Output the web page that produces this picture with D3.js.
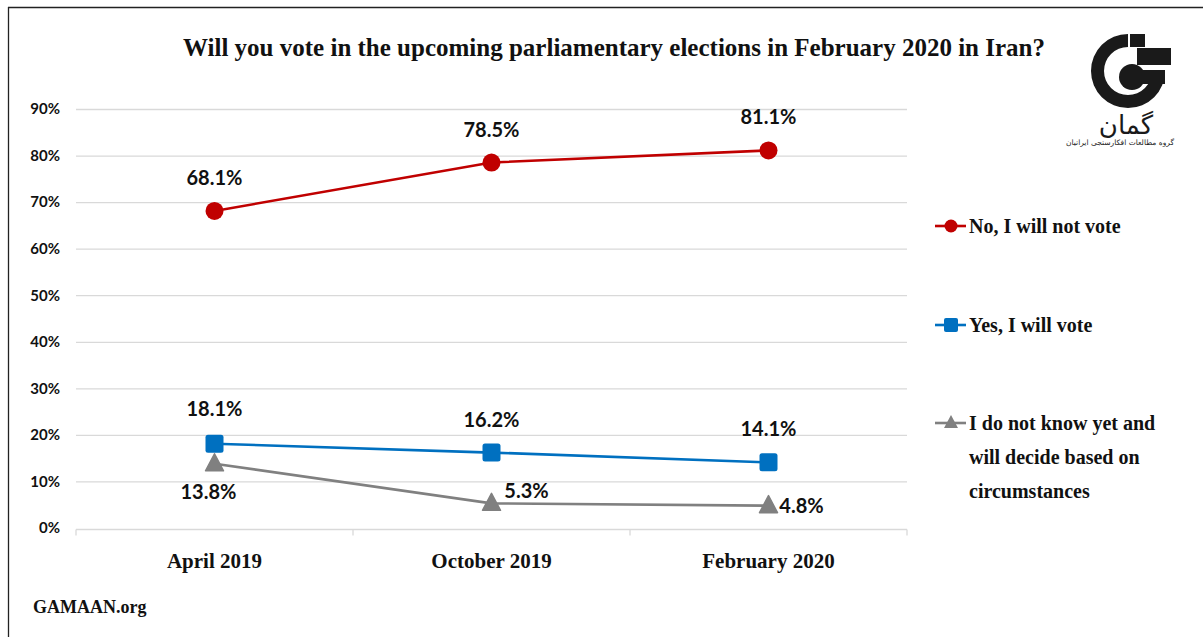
<!DOCTYPE html>
<html>
<head>
<meta charset="utf-8">
<script src="https://cdn.jsdelivr.net/npm/d3@7"></script>
<style>
  html, body { margin: 0; padding: 0; background: #fff; }
  svg { display: block; }
</style>
</head>
<body>
<svg id="chart" width="1203" height="637"></svg>
<script>
// Survey waves and answer shares (%)
const waves = ["April 2019", "October 2019", "February 2020"];
const noVote = [68.1, 78.5, 81.1];
const yesVote = [18.1, 16.2, 14.1];
const undecided = [13.8, 5.3, 4.8];
const yTicks = [0, 10, 20, 30, 40, 50, 60, 70, 80, 90];
const seriesNames = ["No, I will not vote", "Yes, I will vote", "I do not know yet and will decide based on circumstances"];

const svg = d3.select("#chart");
const serif = "'Liberation Serif', 'DejaVu Serif', serif";
const sans = "Lato, 'Open Sans', sans-serif";

// frame lines on top and left
svg.append("line").attr("x1", 8).attr("x2", 1203).attr("y1", 7.5).attr("y2", 7.5)
  .attr("stroke", "#222").attr("stroke-width", 1.3);
svg.append("line").attr("x1", 8.5).attr("x2", 8.5).attr("y1", 7).attr("y2", 637)
  .attr("stroke", "#222").attr("stroke-width", 1.3);

// title
svg.append("text")
  .attr("x", 614).attr("y", 56)
  .attr("text-anchor", "middle")
  .attr("font-family", serif).attr("font-weight", "bold").attr("font-size", 25)
  .attr("fill", "#111")
  .text("Will you vote in the upcoming parliamentary elections in February 2020 in Iran?");

const x = d3.scaleBand().domain(waves).range([76, 907]);
const y = d3.scaleLinear().domain([0, 90]).range([528, 109]);
const cx = d => x(d) + x.bandwidth() / 2;

// gridlines
svg.append("g").selectAll("line").data(yTicks.filter(t => t > 0)).join("line")
  .attr("x1", 76).attr("x2", 907)
  .attr("y1", d => y(d) + 0.5).attr("y2", d => y(d) + 0.5)
  .attr("stroke", "#d9d9d9").attr("stroke-width", 1.3);

// y axis tick labels
const yAxis = svg.append("g").attr("transform", "translate(60,0)")
  .call(d3.axisLeft(y).tickValues(yTicks).tickFormat(d => d + "%").tickSize(0).tickPadding(0));
yAxis.select(".domain").remove();
yAxis.selectAll("text")
  .attr("font-family", sans).attr("font-weight", "bold").attr("font-size", 15).attr("fill", "#111");

// x axis with category boundary ticks
const xAxisG = svg.append("g").attr("transform", `translate(0,${y(0) + 1.5})`);
xAxisG.append("line").attr("x1", 76).attr("x2", 907).attr("y1", 0).attr("y2", 0)
  .attr("stroke", "#d9d9d9").attr("stroke-width", 1.3);
xAxisG.selectAll("line.tick").data(waves.map(w => x(w)).concat([907])).join("line")
  .attr("class", "tick")
  .attr("x1", d => d).attr("x2", d => d).attr("y1", 0).attr("y2", 6)
  .attr("stroke", "#d9d9d9").attr("stroke-width", 1.3);
xAxisG.selectAll("text").data(waves).join("text")
  .attr("x", d => cx(d)).attr("y", 38)
  .attr("text-anchor", "middle")
  .attr("font-family", serif).attr("font-weight", "bold").attr("font-size", 21).attr("fill", "#111")
  .text(d => d);

const line = d3.line().x((d, i) => cx(waves[i])).y(d => y(d));

const series = [
  { name: seriesNames[0], values: noVote, color: "#C00000", shape: "circle" },
  { name: seriesNames[1], values: yesVote, color: "#0070C0", shape: "square" },
  { name: seriesNames[2], values: undecided, color: "#808080", shape: "triangle" }
];

function marker(g, shape, color, px, py) {
  if (shape === "circle") {
    g.append("circle").attr("cx", px).attr("cy", py).attr("r", 9).attr("fill", color);
  } else if (shape === "square") {
    g.append("rect").attr("x", px - 9).attr("y", py - 9).attr("width", 18).attr("height", 18)
      .attr("rx", 2.5).attr("fill", color);
  } else {
    g.append("path").attr("d", `M${px},${py - 10} L${px + 9},${py + 7} L${px - 9},${py + 7} Z`)
      .attr("fill", color).attr("stroke", color).attr("stroke-width", 1.5).attr("stroke-linejoin", "round");
  }
}

// draw from the bottom series up so red sits on top
[...series].reverse().forEach(s => {
  const g = svg.append("g");
  g.append("path").datum(s.values).attr("d", line)
    .attr("fill", "none").attr("stroke", s.color).attr("stroke-width", 2.6);
  s.values.forEach((v, i) => marker(g, s.shape, s.color, cx(waves[i]), y(v)));
});

// value labels: offsets per series/point
const labelOffsets = [
  [[0, -33], [0, -33], [0, -33]],
  [[0, -35], [0, -33], [0, -33]],
  [[-6, 28], [35, -12], [33, 0]]
];
series.forEach((s, si) => {
  s.values.forEach((v, i) => {
    const [dx, dy] = labelOffsets[si][i];
    svg.append("text")
      .attr("x", cx(waves[i]) + dx).attr("y", y(v) + dy)
      .attr("dy", "0.35em")
      .attr("text-anchor", "middle")
      .attr("font-family", sans).attr("font-weight", "bold").attr("font-size", 20).attr("fill", "#111")
      .text(v.toFixed(1) + "%");
  });
});

// legend
const legendY = [226, 325, 423];
series.forEach((s, i) => {
  const g = svg.append("g");
  const ly = legendY[i];
  g.append("line").attr("x1", 935).attr("x2", 966).attr("y1", ly).attr("y2", ly)
    .attr("stroke", s.color).attr("stroke-width", 2.6);
  if (s.shape === "circle") g.append("circle").attr("cx", 951).attr("cy", ly).attr("r", 6.5).attr("fill", s.color);
  else if (s.shape === "square") g.append("rect").attr("x", 944).attr("y", ly - 7).attr("width", 14).attr("height", 14).attr("rx", 2).attr("fill", s.color);
  else g.append("path").attr("d", `M951,${ly - 8} L958,${ly + 5} L944,${ly + 5} Z`).attr("fill", s.color);
});
const legendLines = [[seriesNames[0]], [seriesNames[1]], ["I do not know yet and", "will decide based on", "circumstances"]];
legendLines.forEach((lines, i) => {
  const t = svg.append("text")
    .attr("font-family", serif).attr("font-weight", "bold").attr("font-size", 20).attr("fill", "#111");
  lines.forEach((ln, j) => {
    t.append("tspan").attr("x", 969).attr("y", legendY[i] + 7 + j * 34).text(ln);
  });
});

// source
svg.append("text").attr("x", 33).attr("y", 613)
  .attr("font-family", serif).attr("font-weight", "bold").attr("font-size", 18).attr("fill", "#111")
  .text("GAMAAN.org");

// logo mark
const logo = svg.append("g").attr("fill", "#1a1a1a");
const arc = d3.arc().innerRadius(24).outerRadius(37);
logo.append("path")
  .attr("d", arc({ startAngle: 0, endAngle: Math.PI * 1.5 }))
  .attr("transform", "translate(1128,71) rotate(90)");
logo.append("rect").attr("x", 1130).attr("y", 34).attr("width", 15).attr("height", 13);
logo.append("rect").attr("x", 1137).attr("y", 48).attr("width", 34).attr("height", 17);
logo.append("circle").attr("cx", 1132).attr("cy", 77).attr("r", 13);
logo.append("rect").attr("x", 1132).attr("y", 70).attr("width", 33).attr("height", 14);
logo.append("text").attr("x", 1126).attr("y", 134).attr("text-anchor", "middle")
  .attr("font-family", "'DejaVu Sans', sans-serif").attr("font-size", 26)
  .attr("direction", "rtl")
  .text("گمان");
logo.append("text").attr("x", 1120).attr("y", 145).attr("text-anchor", "middle")
  .attr("font-family", "'DejaVu Sans', sans-serif").attr("font-size", 7.5)
  .attr("direction", "rtl")
  .text("گروه مطالعات افکارسنجی ایرانیان");
</script>
</body>
</html>
